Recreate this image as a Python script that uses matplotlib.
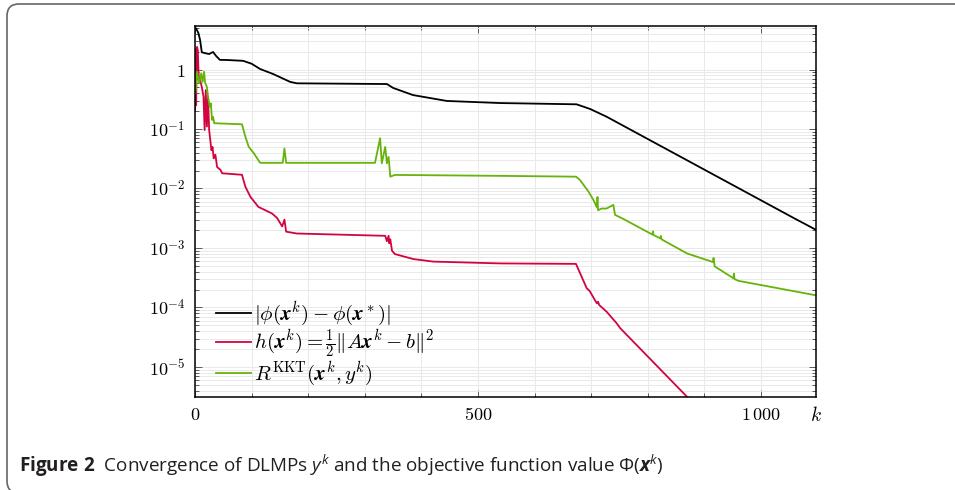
import matplotlib
matplotlib.use("Agg")
import matplotlib.pyplot as plt
import matplotlib.transforms as mtransforms
from matplotlib.patches import FancyBboxPatch
from matplotlib.ticker import MultipleLocator, LogLocator, NullFormatter

plt.rcParams['mathtext.fontset'] = 'cm'
plt.rcParams['font.family'] = ['DejaVu Serif']
# fonts used by the caption (math_fontfamily='custom')
plt.rcParams['mathtext.rm'] = 'Open Sans'
plt.rcParams['mathtext.it'] = 'Open Sans:italic'
plt.rcParams['mathtext.bf'] = 'Open Sans:bold'
plt.rcParams['mathtext.bfit'] = 'Open Sans:italic:bold'

# |phi(x^k) - phi(x*)|
obj_k = [0, 2, 6, 9, 12, 18, 25, 32, 37, 44, 53, 85, 100, 115, 138, 168, 180,
         339, 350, 385, 445, 539, 674, 698, 727, 1060, 1100]
obj_val = [5.0, 4.9, 4.1, 3.13, 1.95, 1.88, 1.82, 1.97, 1.70, 1.45, 1.45, 1.40,
           1.25, 1.02, 0.84, 0.62, 0.586, 0.57, 0.49, 0.372, 0.296, 0.273,
           0.26, 0.217, 0.161, 0.0031, 0.00195]

# h(x^k) = 1/2 ||A x^k - b||^2
res_k = [0, 1, 2, 3.5, 5, 6.5, 9, 12, 15, 17, 19, 21, 23, 25, 27, 29, 31, 33,
         36, 39, 45, 48, 83, 89, 98, 112, 136, 145, 154, 158, 161, 171, 180,
         336, 339, 342, 343, 345, 348, 353, 386, 421, 539, 673, 692, 697, 700,
         706, 710, 712, 714, 727, 745, 751, 869, 875]
res_val = [0.2, 2.2, 0.25, 2.4, 2.1, 0.76, 0.67, 0.51, 0.35, 0.096, 0.45, 0.11,
           0.35, 0.096, 0.065, 0.044, 0.05, 0.032, 0.037, 0.023, 0.0205, 0.018,
           0.017, 0.0107, 0.0072, 0.0049, 0.0038, 0.0032, 0.0023, 0.0030,
           0.00188, 0.00181, 0.00175, 0.0016, 0.0013, 0.0016, 0.0012, 0.0014,
           0.0009, 0.00079, 0.00065, 0.00059, 0.00055, 0.00054, 0.00021,
           0.00019, 0.00017, 0.000135, 0.000117, 0.000125, 0.00011, 0.000085,
           0.000054, 0.000045, 3.16e-6, 2.9e-6]

# R^KKT(x^k, y^k)
kkt_k = [0, 1, 3.5, 7.5, 11, 13.5, 16, 18, 21, 23, 26, 28, 30, 32, 34, 83, 89,
         95, 104, 115, 155, 158, 161, 318, 327, 330, 336, 339, 342, 345, 353,
         539, 673, 680, 695, 703, 706, 710, 711, 712, 718, 727, 739, 742, 756,
         808, 809, 810, 822, 823, 824, 869, 915, 916, 918, 951, 952, 953, 960,
         1100]
kkt_val = [0.86, 0.4, 0.92, 0.59, 0.86, 0.62, 0.92, 0.59, 0.51, 0.35, 0.237,
           0.27, 0.142, 0.16, 0.125, 0.12, 0.074, 0.050, 0.039, 0.027, 0.027,
           0.047, 0.027, 0.027, 0.070, 0.0265, 0.050, 0.0265, 0.034, 0.0158,
           0.0169, 0.0163, 0.0158, 0.0139, 0.0089, 0.0066, 0.0058, 0.0048,
           0.0072, 0.0043, 0.0046, 0.0046, 0.0053, 0.0036, 0.0031, 0.00168,
           0.0019, 0.00165, 0.00145, 0.0016, 0.0014, 0.00081, 0.00058,
           0.00068, 0.00049, 0.00031, 0.00037, 0.0003, 0.00028, 0.000158]

y_ticks = [1, 1e-1, 1e-2, 1e-3, 1e-4, 1e-5]
y_labels = [r'$1$', r'$10^{-1}$', r'$10^{-2}$', r'$10^{-3}$', r'$10^{-4}$', r'$10^{-5}$']
x_ticks = [0, 500, 1000]
x_labels = [r'$0$', r'$500$', r'$1\,000$']

fig = plt.figure(figsize=(9.55, 4.9), dpi=100)
ax = fig.add_axes([195 / 955, 1 - 396.7 / 490, (816 - 195) / 955, (396.7 - 25.7) / 490])

ax.plot(obj_k, obj_val, color='black', lw=1.3,
        label=r'$|\phi(\mathbfit{x}^k) - \phi(\mathbfit{x}^*)|$')
ax.plot(res_k, res_val, color='#d0053f', lw=1.3,
        label=r'$h(\mathbfit{x}^k) = \frac{1}{2}\Vert A\mathbfit{x}^k - b\Vert^2$')
ax.plot(kkt_k, kkt_val, color='#66b30a', lw=1.3,
        label=r'$R^{\mathrm{KKT}}(\mathbfit{x}^k, y^k)$')

ax.set_yscale('log')
ax.set_xlim(0, 1097)
ax.set_ylim(3.16e-6, 5.45)

ax.set_xticks(x_ticks)
ax.set_xticklabels(x_labels)
ax.xaxis.set_minor_locator(MultipleLocator(100))
ax.set_yticks(y_ticks)
ax.set_yticklabels(y_labels)
ax.yaxis.set_minor_locator(LogLocator(base=10, subs=range(2, 10), numticks=20))
ax.yaxis.set_minor_formatter(NullFormatter())

ax.tick_params(which='both', direction='in', top=True, right=True, width=0.6,
               labelsize=13, color='#444444')
ax.tick_params(which='major', length=5, pad=7)
ax.tick_params(which='minor', length=3)
ax.grid(True, which='both', color='#e9e9e9', lw=0.7)
ax.set_axisbelow(True)
for s in ax.spines.values():
    s.set_linewidth(1.1)

ax.text(1.0, -0.025, r'$k$', transform=ax.transAxes, ha='center', va='top', fontsize=14)

ax.legend(loc='lower left', bbox_to_anchor=(0.02, 0.0), frameon=False, fontsize=15,
          handlelength=1.7, handletextpad=0.15, labelspacing=0.0, borderaxespad=0)

# rounded frame around the figure
frame = FancyBboxPatch((7, -3), 960, 489, boxstyle='round,pad=0,rounding_size=12',
                       transform=mtransforms.IdentityTransform(), fill=False,
                       edgecolor='#666666', lw=1.2)
fig.patches.append(frame)

fig.text(19 / 955, 1 - 466 / 490,
         r'$\mathbf{Figure\ 2}$  Convergence of DLMPs $y^k$ and the objective function value $\Phi(\mathbfit{x}^k)$',
         math_fontfamily='custom', family='Open Sans', fontsize=13.6, color='#231f20',
         va='center', ha='left')

fig.savefig('out.png', dpi=100)
